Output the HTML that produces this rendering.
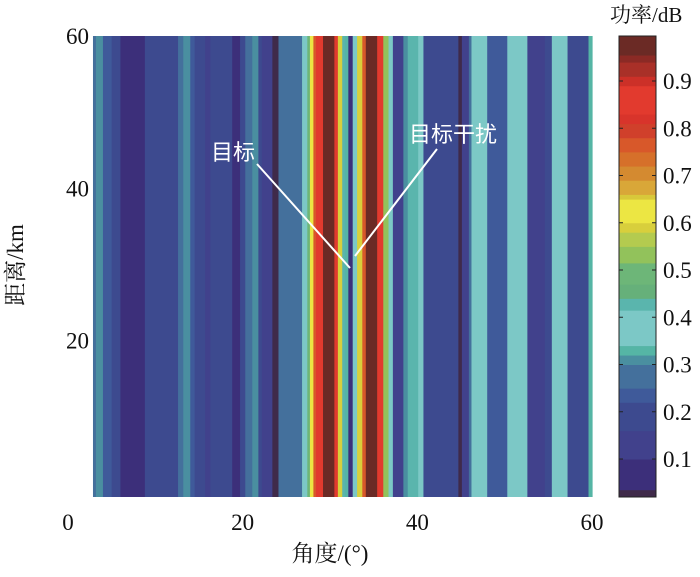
<!DOCTYPE html>
<html><head><meta charset="utf-8"><style>
body{margin:0;background:#fff}
svg text{font-family:"Liberation Serif","Noto Serif CJK SC","Noto Sans CJK SC",serif;fill:#111}
</style></head><body>
<svg id="chart" width="700" height="572" xmlns="http://www.w3.org/2000/svg">
<g id="plot"></g>
<g id="cbar"></g>
<g id="axes"></g>
<g>
<line x1="257" y1="164" x2="350" y2="268" stroke="#fff" stroke-width="2"/>
<line x1="437" y1="149" x2="355" y2="256" stroke="#fff" stroke-width="2"/>
<text x="211" y="160" font-size="22" style="fill:#fff;font-family:'Liberation Sans','Noto Sans CJK SC',sans-serif">目标</text>
<text x="409" y="142" font-size="22" style="fill:#fff;font-family:'Liberation Sans','Noto Sans CJK SC',sans-serif">目标干扰</text>
</g>
</svg>
<script>
const edges=[2.86,3.2,4.0,5.0,6.0,8.8,12.6,13.2,14.0,14.5,15.7,16.3,18.8,19.7,20.3,21.1,21.8,22.2,23.4,24.1,26.8,27.4,27.7,28.1,28.4,29.2,30.5,30.9,31.4,31.7,32.1,32.6,33.1,33.7,34.1,35.4,36.1,36.7,37.2,38.4,38.9,40.1,40.7,44.7,45.1,45.9,46.2,48.0,50.3,52.6,54.6,55.4,57.2,59.6,60];
const values=[0.28,0.32,0.24,0.2,0.1,0.18,0.26,0.31,0.25,0.2,0.12,0.18,0.1,0.2,0.3,0.32,0.2,0.12,0.03,0.3,0.38,0.5,0.62,0.76,0.85,0.97,0.86,0.6,0.43,0.33,0.1,0.35,0.6,0.76,0.97,0.86,0.55,0.38,0.12,0.32,0.43,0.38,0.18,0.03,0.16,0.26,0.38,0.24,0.38,0.12,0.22,0.38,0.2,0.33];
const xTicks=[0,20,40,60];
const yTicks=[20,40,60];
const cTicks=[0.1,0.2,0.3,0.4,0.5,0.6,0.7,0.8,0.9];
const levelTops=[0.035,0.1,0.16,0.22,0.25,0.3,0.32,0.34,0.415,0.44,0.47,0.515,0.55,0.58,0.6,0.65,0.66,0.69,0.72,0.75,0.78,0.81,0.83,0.89,0.91,0.94,0.955,1.0];
const levelColors=['#3f2a4a','#3c2f7a','#41418c','#3d4a8f','#3f5a9a','#44709c','#4a8fa0','#55b5a5','#7cc8c6','#5ab5ad','#66b07a','#6db678','#92c25b','#b4cb4f','#d8cf3c','#ece643','#d8c83a','#d9a738','#d48a30','#d6702a','#d8582a','#d0402b','#d8342b','#e23a2e','#cc3028','#a93028','#8b2a25','#6b2a25'];
const NS='http://www.w3.org/2000/svg';
const X=a=>68+a*(524/60);
const Y=k=>493-k*(457/60);
const CY=v=>459-(v-0.1)*472.5;
function col(v){for(let i=0;i<levelTops.length;i++){if(v<=levelTops[i])return levelColors[i];}return levelColors[levelColors.length-1];}
function mk(t,a,p){const e=document.createElementNS(NS,t);for(const k in a)e.setAttribute(k,a[k]);p.appendChild(e);return e;}
const plot=document.getElementById('plot');
for(let i=0;i<values.length;i++){
 const x0=X(edges[i]),x1=X(edges[i+1]);
 const r=mk('rect',{x:x0,y:36,width:x1-x0+0.6,height:461,fill:col(values[i])},plot);
 
 
}
const cb=document.getElementById('cbar');
let prev=0.02;
for(let i=0;i<levelTops.length;i++){
 const y0=Math.max(CY(levelTops[i]),36),y1=Math.min(CY(prev),497);
 const r=mk('rect',{x:619,y:y0,width:37,height:y1-y0+0.5,fill:levelColors[i]},cb);
 
 
 prev=levelTops[i];
}
mk('rect',{x:619,y:36,width:37,height:461,fill:'none',stroke:'#222','stroke-width':1},cb);
cTicks.forEach(v=>{
 const y=CY(v);
 mk('line',{x1:619,y1:y,x2:623,y2:y,stroke:'#222'},cb);
 mk('line',{x1:652,y1:y,x2:656,y2:y,stroke:'#222'},cb);
 const t=mk('text',{x:663,y:y+8,'font-size':23},cb);t.textContent=v.toFixed(1);
 
 
});
const ct=mk('text',{x:610,y:22,'font-size':21},cb);ct.textContent='功率/dB';


const ax=document.getElementById('axes');
xTicks.forEach(v=>{
 const t=mk('text',{x:X(v),y:530,'font-size':23,'text-anchor':'middle'},ax);t.textContent=v;
 
 
});
yTicks.forEach(v=>{
 const t=mk('text',{x:89,y:Y(v)+8,'font-size':23,'text-anchor':'end'},ax);t.textContent=v;
 
 
});
const xt=mk('text',{x:330,y:561,'font-size':23,'text-anchor':'middle'},ax);xt.textContent='角度/(°)';


const yt=mk('text',{x:0,y:0,'font-size':23,'text-anchor':'middle',transform:'translate(23,265) rotate(-90)'},ax);yt.textContent='距离/km';


</script>
</body></html>
